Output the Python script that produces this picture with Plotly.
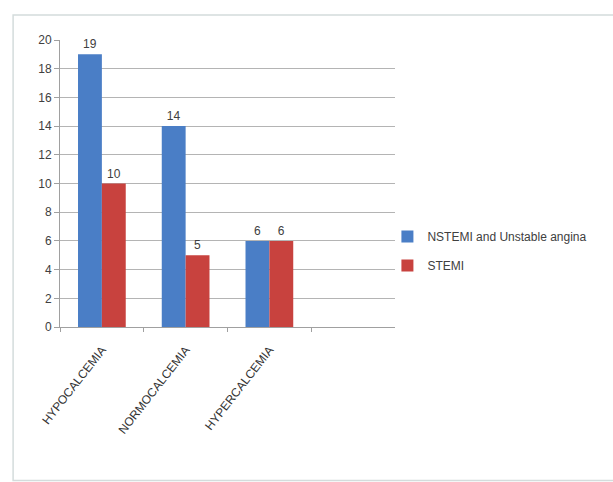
import plotly.graph_objects as go

categories = ["HYPOCALCEMIA", "NORMOCALCEMIA", "HYPERCALCEMIA"]
nstemi_ua = [19, 14, 6]
stemi = [10, 5, 6]
series_names = ["NSTEMI and Unstable angina", "STEMI"]
y_ticks = [0, 2, 4, 6, 8, 10, 12, 14, 16, 18, 20]

FONT = "Liberation Sans Narrow, Liberation Sans, Arial, sans-serif"
TXT = "#404040"

fig = go.Figure()
for name, vals, color in [
    (series_names[0], nstemi_ua, "#4a7ec6"),
    (series_names[1], stemi, "#c8423e"),
]:
    fig.add_trace(go.Bar(
        x=categories, y=vals, name=name, legendgroup=name,
        marker=dict(color=color, line=dict(width=0)),
        text=[str(v) for v in vals], textposition="outside",
        textfont=dict(family=FONT, size=12, color=TXT),
        cliponaxis=False,
    ))

fig.update_layout(
    width=613, height=482,
    margin=dict(l=60, r=218, t=40, b=155, autoexpand=False),
    paper_bgcolor="white", plot_bgcolor="white",
    barmode="group", bargap=0.43, bargroupgap=0,
    font=dict(family=FONT, size=12, color=TXT),
    showlegend=True,
    legend=dict(
        xref="container", yref="container",
        x=0.632, y=0.479, xanchor="left", yanchor="middle",
        font=dict(family=FONT, size=12, color=TXT),
        tracegroupgap=10, itemwidth=30, bgcolor="rgba(0,0,0,0)",
    ),
    xaxis=dict(
        range=[-0.5, 3.5], tickson="boundaries", ticks="outside",
        ticklen=4, tickcolor="#a0a0a0", tickangle=-52,
        ticklabelstandoff=10,
        showline=True, linecolor="#a0a0a0", linewidth=1,
        showgrid=False, tickfont=dict(family=FONT, size=12, color="#333333"),
        fixedrange=True,
    ),
    yaxis=dict(
        range=[0, 20], tickvals=y_ticks, ticks="outside", ticklen=5,
        tickcolor="#a0a0a0", showline=True, linecolor="#a0a0a0",
        linewidth=1, showgrid=True, gridcolor="#b4b4b4", gridwidth=1,
        zeroline=False, tickfont=dict(family=FONT, size=12, color=TXT),
        fixedrange=True,
    ),
)

# light frame around the chart area
frame = "#d4dcdc"
fig.add_shape(type="rect", xref="paper", yref="paper",
              x0=-0.14, x1=1.66, y0=-0.535, y1=1.087,
              line=dict(color=frame, width=1.5), layer="below")

fig.write_html("out.html")
